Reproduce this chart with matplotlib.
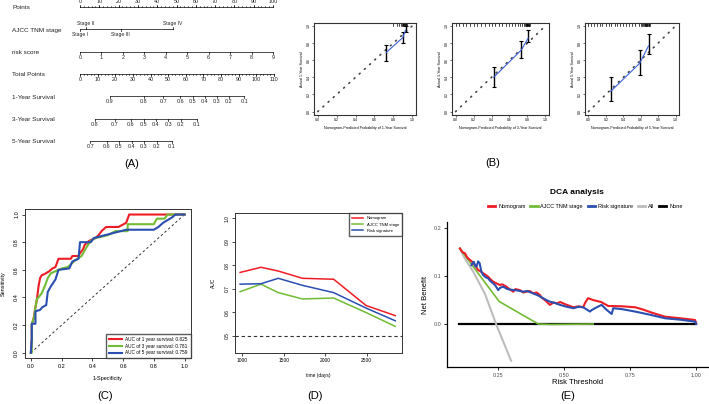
import numpy as np
import matplotlib
matplotlib.use('Agg')
import matplotlib.pyplot as plt
from matplotlib.lines import Line2D

plt.rcParams['font.family'] = ['Liberation Sans', 'DejaVu Sans']

# ---------------- data ----------------
# (A) nomogram
nomo_rows = ['Points', 'AJCC TNM stage', 'risk score', 'Total Points',
             '1-Year Survival', '3-Year Survival', '5-Year Survival']
points_ticks = np.arange(0, 101, 10)
stage_labels = ['Stage I', 'Stage II', 'Stage III', 'Stage IV']
stage_points = [0, 3, 21, 48]
risk_ticks = np.arange(0, 10)
risk_pts_per_unit = 100 / 9
total_ticks = np.arange(0, 111, 10)
total_scale = 100.5 / 110
surv1_labels = ['0.9', '0.8', '0.7', '0.6', '0.5', '0.4', '0.3', '0.2', '0.1']
surv1_total = [17, 36, 47.3, 56.8, 64, 70.7, 77.5, 84.5, 93.2]
surv3_labels = ['0.8', '0.7', '0.6', '0.5', '0.4', '0.3', '0.2', '0.1']
surv3_total = [8.3, 19.8, 28.7, 36.3, 43.1, 50.1, 57.1, 66.2]
surv5_labels = ['0.7', '0.6', '0.5', '0.4', '0.3', '0.2', '0.1']
surv5_total = [5.7, 15.1, 21.9, 29.3, 36.3, 43.5, 52]

# (B) calibration curves, 1/3/5 years
cal_years = [1, 3, 5]
cal_pred = [[0.725, 0.90, 0.93], [0.424, 0.73, 0.808], [0.255, 0.587, 0.69]]
cal_obs = [[0.69, 0.864, 0.95], [0.40, 0.717, 0.857], [0.236, 0.562, 0.767]]
cal_lo = [[0.593, 0.806, 0.93], [0.283, 0.624, 0.818], [0.128, 0.43, 0.67]]
cal_hi = [[0.78, 0.934, 1.0], [0.515, 0.826, 0.95], [0.40, 0.717, 0.903]]
cal_rug = [
    [0.80, 0.84, 0.86, 0.88, 0.89, 0.90, 0.905, 0.91, 0.915, 0.92, 0.925, 0.93, 0.935, 0.94],
    [0.0, 0.04, 0.08, 0.12, 0.16, 0.2, 0.24, 0.28, 0.33, 0.37, 0.4, 0.44, 0.48, 0.52, 0.56,
     0.6, 0.63, 0.66, 0.69, 0.72, 0.74, 0.76, 0.77, 0.78, 0.785, 0.79, 0.795, 0.80, 0.805,
     0.81, 0.815, 0.82, 0.83],
    [0.0, 0.03, 0.06, 0.1, 0.13, 0.16, 0.2, 0.23, 0.26, 0.3, 0.33, 0.36, 0.4, 0.43, 0.46,
     0.5, 0.54, 0.58, 0.6, 0.62, 0.63, 0.64, 0.65, 0.655, 0.66, 0.665, 0.67, 0.675, 0.68,
     0.69, 0.70, 0.71],
]

# (C) ROC curves
roc1_x = [0, 0.006, 0.006, 0.02, 0.03, 0.04, 0.05, 0.06, 0.07, 0.09, 0.12, 0.14, 0.16, 0.18,
          0.26, 0.27, 0.31, 0.32, 0.34, 0.35, 0.38, 0.42, 0.44, 0.46, 0.49, 0.57, 0.62, 0.63,
          0.64, 0.88, 1.0]
roc1_y = [0, 0.10, 0.20, 0.26, 0.33, 0.39, 0.48, 0.54, 0.56, 0.57, 0.59, 0.61, 0.62, 0.68,
          0.68, 0.70, 0.70, 0.72, 0.75, 0.78, 0.81, 0.83, 0.85, 0.88, 0.91, 0.91, 0.94, 0.97,
          1.0, 1.0, 1.0]
roc3_x = [0, 0.006, 0.006, 0.02, 0.03, 0.04, 0.05, 0.07, 0.09, 0.11, 0.13, 0.16, 0.20, 0.24,
          0.27, 0.29, 0.33, 0.36, 0.39, 0.42, 0.46, 0.50, 0.55, 0.63, 0.63, 0.80, 0.82, 0.87,
          0.89, 1.0]
roc3_y = [0, 0, 0.21, 0.25, 0.33, 0.39, 0.40, 0.43, 0.48, 0.54, 0.575, 0.59, 0.61, 0.62,
          0.65, 0.67, 0.70, 0.76, 0.81, 0.83, 0.84, 0.85, 0.88, 0.88, 0.93, 0.93, 0.97, 0.97,
          1.0, 1.0]
roc5_x = [0, 0.006, 0.006, 0.03, 0.03, 0.06, 0.075, 0.10, 0.11, 0.13, 0.16, 0.18, 0.25, 0.27,
          0.31, 0.32, 0.39, 0.41, 0.48, 0.62, 0.80, 0.83, 0.86, 0.89, 0.92, 0.94, 1.0]
roc5_y = [0, 0.10, 0.21, 0.21, 0.30, 0.31, 0.33, 0.345, 0.44, 0.48, 0.53, 0.60, 0.61, 0.66,
          0.68, 0.80, 0.80, 0.83, 0.85, 0.89, 0.89, 0.91, 0.94, 0.96, 0.98, 1.0, 1.0]
roc_labels = ['AUC of 1 year survival: 0.825', 'AUC of 3 year survival: 0.781',
              'AUC of 5 year survival: 0.759']

# (D) time-dependent AUC
auc_days = [972, 1224, 1432, 1724, 2100, 2492, 2844]
auc_nomo = [0.770, 0.792, 0.776, 0.745, 0.741, 0.629, 0.586]
auc_stage = [0.688, 0.720, 0.684, 0.657, 0.661, 0.599, 0.540]
auc_risk = [0.720, 0.722, 0.745, 0.715, 0.684, 0.618, 0.564]
model_names = ['Nomogram', 'AJCC TNM stage', 'Risk signature']

# (E) decision curves
nomo_thr = [0.105, 0.115, 0.124, 0.133, 0.143, 0.152, 0.162, 0.168, 0.174, 0.183, 0.193,
            0.202, 0.212, 0.22, 0.231, 0.24, 0.256, 0.265, 0.282, 0.29, 0.307, 0.315, 0.332,
            0.345, 0.358, 0.37, 0.383, 0.395, 0.408, 0.415, 0.427, 0.435, 0.446, 0.46,
            0.472, 0.485, 0.497, 0.515, 0.535, 0.555, 0.572, 0.58, 0.591, 0.610, 0.64,
            0.667, 0.72, 0.769, 0.80, 0.832, 0.882, 0.94, 0.996, 1.0]
nomo_nb = [0.158, 0.150, 0.148, 0.139, 0.134, 0.130, 0.123, 0.118, 0.113, 0.110, 0.106,
           0.103, 0.099, 0.094, 0.0885, 0.086, 0.0816, 0.083, 0.078, 0.074, 0.0676, 0.073,
           0.071, 0.066, 0.0676, 0.069, 0.064, 0.066, 0.0607, 0.055, 0.050, 0.046, 0.040,
           0.045, 0.043, 0.046, 0.043, 0.039, 0.035, 0.037, 0.035, 0.045, 0.054, 0.050,
           0.046, 0.0377, 0.037, 0.035, 0.030, 0.0237, 0.0153, 0.012, 0.0084, 0.0015]
risk_thr = [0.149, 0.153, 0.158, 0.163, 0.168, 0.174, 0.18, 0.186, 0.193, 0.202, 0.212,
            0.22, 0.231, 0.24, 0.25, 0.258, 0.269, 0.285, 0.307, 0.325, 0.345, 0.36, 0.383,
            0.40, 0.421, 0.433, 0.446, 0.465, 0.484, 0.51, 0.535, 0.555, 0.572, 0.598,
            0.604, 0.62, 0.642, 0.660, 0.680, 0.686, 0.72, 0.769, 0.82, 0.882, 0.94, 0.996,
            1.0]
risk_nb = [0.123, 0.128, 0.130, 0.121, 0.120, 0.131, 0.127, 0.110, 0.1025, 0.098, 0.0955,
           0.090, 0.085, 0.080, 0.071, 0.076, 0.078, 0.073, 0.071, 0.070, 0.0676, 0.069,
           0.064, 0.060, 0.0538, 0.050, 0.0467, 0.044, 0.040, 0.036, 0.033, 0.036, 0.035,
           0.026, 0.029, 0.034, 0.040, 0.030, 0.021, 0.033, 0.031, 0.026, 0.020, 0.012,
           0.009, 0.005, 0.0]
stage_thr = [0.105, 0.162, 0.254, 0.402, 0.45, 0.61]
stage_nb = [0.158, 0.115, 0.047, 0.0, -0.001, 0.0]
all_thr = [0.105, 0.124, 0.155, 0.20, 0.242, 0.299]
all_nb = [0.158, 0.137, 0.110, 0.063, 0.0, -0.077]
none_thr = [0.10, 1.0]
none_nb = [0.0, 0.0]

RED, GREEN, BLUE = '#ee1c25', '#72bb35', '#2a4fb0'

# ---------------- figure ----------------
W, H = 709, 404
fig = plt.figure(figsize=(W / 100, H / 100), dpi=100)


def add_ax(x0, y0, x1, y1):
    # pixel box (origin top-left) -> axes
    return fig.add_axes([x0 / W, 1 - y1 / H, (x1 - x0) / W, (y1 - y0) / H])


# ---------- (A) nomogram ----------
axA = add_ax(0, 0, 280, 152)
axA.set_xlim(-41.45, 103.6)
axA.set_ylim(6.49, -0.313)
axA.axis('off')
tl = 0.09  # tick length in row units


def scale_row(row, xs, labels, side=1, minor=None):
    axA.plot([min(xs), max(xs)], [row, row], color='k', lw=0.5)
    if minor is not None:
        for m in minor:
            axA.plot([m, m], [row, row + side * tl * 0.6], color='k', lw=0.4)
    for x, lab in zip(xs, labels):
        axA.plot([x, x], [row, row + side * tl], color='k', lw=0.5)
        axA.text(x, row + side * 0.25, lab, ha='center', va='center', fontsize=3.9,
                 color='#222222')


for i, name in enumerate(nomo_rows):
    axA.text(-35.2, i + 0.03, name, ha='left', va='center', fontsize=4.6, color='#222222')

scale_row(0, points_ticks, [str(v) for v in points_ticks], side=-1,
          minor=np.arange(0, 101, 2))
# stage row: labels alternate below / above
axA.plot([min(stage_points), max(stage_points)], [1, 1], color='k', lw=0.5)
for k, (sp, lab) in enumerate(zip(stage_points, stage_labels)):
    s = 1 if k % 2 == 0 else -1
    axA.plot([sp, sp], [1, 1 + s * tl], color='k', lw=0.5)
    axA.text(sp, 1 + s * 0.25, lab, ha='center', va='center', fontsize=3.6, color='#222222')
scale_row(2, risk_ticks * risk_pts_per_unit, [str(v) for v in risk_ticks])
scale_row(3, total_ticks * total_scale, [str(v) for v in total_ticks],
          minor=np.arange(0, 111, 2) * total_scale)
scale_row(4, np.array(surv1_total) * total_scale, surv1_labels)
scale_row(5, np.array(surv3_total) * total_scale, surv3_labels)
scale_row(6, np.array(surv5_total) * total_scale, surv5_labels)

# ---------- (B) calibration ----------
cal_boxes = [(314, 22.5, 416, 115), (452, 22.5, 549, 115), (585, 22.5, 679, 115)]
for j, box in enumerate(cal_boxes):
    ax = add_ax(*box)
    ax.plot([0, 1], [0, 1], color='#444444', lw=1.2, dashes=(0.6, 3.6),
            dash_capstyle='round')
    ax.errorbar(cal_pred[j], cal_obs[j],
                yerr=[np.array(cal_obs[j]) - np.array(cal_lo[j]),
                      np.array(cal_hi[j]) - np.array(cal_obs[j])],
                fmt='none', ecolor='k', elinewidth=1.0, capsize=1.3, capthick=0.8)
    ax.plot(cal_pred[j], cal_obs[j], color='#3b62d6', lw=0.8)
    for r in cal_rug[j]:
        ax.plot([r, r], [1.04, 0.995], color='k', lw=0.5)
    ax.set_xlim(-0.04, 1.04)
    ax.set_ylim(-0.04, 1.04)
    ax.set_xticks(np.arange(0, 1.01, 0.2))
    ax.set_yticks(np.arange(0, 1.01, 0.2))
    ax.set_xticklabels(['0.0', '0.2', '0.4', '0.6', '0.8', '1.0'])
    ax.set_yticklabels(['0.0', '0.2', '0.4', '0.6', '0.8', '1.0'], rotation=90, va='center')
    ax.tick_params(labelsize=2.5, length=1.2, width=0.4, pad=1)
    for s in ax.spines.values():
        s.set_linewidth(0.8)
        s.set_color('#333333')
    ax.set_xlabel('Nomogram-Predicted Probability of %d-Year Survival' % cal_years[j],
                  fontsize=2.6, labelpad=3)
    ax.set_ylabel('Actual %d-Year Survival' % cal_years[j], fontsize=2.6, labelpad=2)

# ---------- (C) ROC ----------
axC = add_ax(24.7, 209, 190.7, 358.3)
axC.plot([0, 1], [0, 1], color='#333333', lw=0.7, ls=(0, (2.5, 2.5)))
axC.plot(roc1_x, roc1_y, color=RED, lw=1.5, label=roc_labels[0])
axC.plot(roc3_x, roc3_y, color=GREEN, lw=1.5, label=roc_labels[1])
axC.plot(roc5_x, roc5_y, color=BLUE, lw=1.5, label=roc_labels[2])
axC.set_xlim(-0.04, 1.04)
axC.set_ylim(-0.04, 1.04)
axC.set_xticks(np.arange(0, 1.01, 0.2))
axC.set_yticks(np.arange(0, 1.01, 0.2))
axC.set_xticklabels(['0.0', '0.2', '0.4', '0.6', '0.8', '1.0'])
axC.set_yticklabels(['0.0', '0.2', '0.4', '0.6', '0.8', '1.0'], rotation=90, va='center')
axC.tick_params(labelsize=4, length=2, width=0.5, pad=2)
for s in axC.spines.values():
    s.set_linewidth(0.7)
    s.set_color('#333333')
axC.set_xlabel('1-Specificity', fontsize=4, labelpad=5)
axC.set_ylabel('Sensitivity', fontsize=4, labelpad=6)
axC.legend(loc='lower right', fontsize=3.4, frameon=True, fancybox=False, edgecolor='#333333',
           borderaxespad=0, handlelength=2.6, labelspacing=0.4, borderpad=0.6)

# ---------- (D) AUC over time ----------
axD = add_ax(235, 213.3, 402, 352.7)
axD.axhline(0.5, color='#333333', lw=0.8, ls=(0, (3, 2.5)))
axD.plot(auc_days, auc_nomo, color=RED, lw=1.1, label=model_names[0])
axD.plot(auc_days, auc_stage, color=GREEN, lw=1.1, label=model_names[1])
axD.plot(auc_days, auc_risk, color=BLUE, lw=1.1, label=model_names[2])
axD.set_xlim(910, 2925)
axD.set_ylim(0.428, 1.022)
axD.set_xticks([1000, 1500, 2000, 2500])
axD.set_yticks([0.5, 0.6, 0.7, 0.8, 0.9, 1.0])
axD.set_yticklabels(['0.5', '0.6', '0.7', '0.8', '0.9', '1.0'], rotation=90, va='center')
axD.tick_params(labelsize=3.5, length=2, width=0.5, pad=2)
for s in axD.spines.values():
    s.set_linewidth(0.7)
    s.set_color('#333333')
axD.set_xlabel('time (days)', fontsize=3.5, labelpad=7)
axD.set_ylabel('AUC', fontsize=3.5, labelpad=6)
axD.legend(loc='upper right', fontsize=3.0, frameon=True, fancybox=False, edgecolor='#333333',
           borderaxespad=0, handlelength=2.8, labelspacing=0.55, borderpad=0.7)

# ---------- (E) DCA ----------
axE = add_ax(446.7, 221.7, 708, 367.3)
axE.plot(none_thr, none_nb, color='k', lw=1.6, zorder=2)
axE.plot(all_thr, all_nb, color='#bdbdbd', lw=1.5, zorder=3)
axE.plot(stage_thr, stage_nb, color=GREEN, lw=1.2, zorder=4)
axE.plot(nomo_thr, nomo_nb, color=RED, lw=1.5, zorder=5)
axE.plot(risk_thr, risk_nb, color=BLUE, lw=1.5, zorder=6)
axE.set_xlim(0.055, 1.045)
axE.set_ylim(-0.0906, 0.214)
axE.set_xticks([0.25, 0.5, 0.75, 1.0])
axE.set_xticklabels(['0.25', '0.50', '0.75', '1.00'])
axE.set_yticks([0.0, 0.1, 0.2])
axE.set_yticklabels(['0.0', '0.1', '0.2'])
axE.tick_params(labelsize=4, length=2, width=0.6, pad=2, labelcolor='#4d4d4d')
axE.spines['top'].set_visible(False)
axE.spines['right'].set_visible(False)
axE.spines['left'].set_linewidth(0.9)
axE.spines['bottom'].set_linewidth(0.9)
axE.set_xlabel('Risk Threshold', fontsize=5.5, labelpad=1)
axE.set_ylabel('Net Benefit', fontsize=5.5, labelpad=3)
axE.text(0.5, 1.2, 'DCA analysis', transform=axE.transAxes, ha='center', va='center',
         fontsize=6, fontweight='bold')
handles = [Line2D([], [], color=RED, lw=2), Line2D([], [], color=GREEN, lw=2),
           Line2D([], [], color=BLUE, lw=2), Line2D([], [], color='#bdbdbd', lw=2),
           Line2D([], [], color='k', lw=2)]
axE.legend(handles, model_names + ['All', 'None'], loc='center', ncol=5,
           bbox_to_anchor=(0.53, 1.103), fontsize=4, frameon=False, handlelength=1.3,
           handletextpad=0.5, columnspacing=0.9, borderaxespad=0)

# panel labels
for lab, px, py in [('(A)', 132, 164), ('(B)', 493, 163), ('(C)', 105, 396),
                    ('(D)', 315, 396), ('(E)', 568, 396)]:
    fig.text(px / W, 1 - py / H, lab, ha='center', va='center', fontsize=8)

fig.savefig('out.png', dpi=100)
